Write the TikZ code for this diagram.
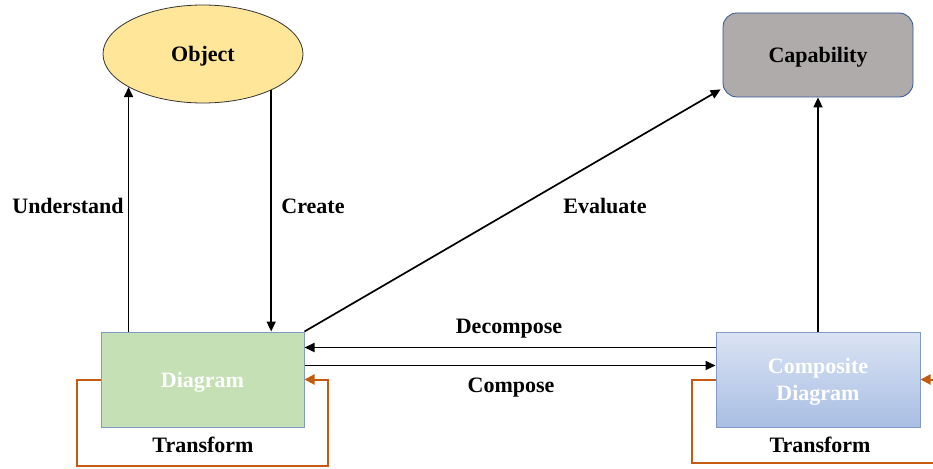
\documentclass[tikz,border=0pt]{standalone}
\usepackage{fontspec}
\setmainfont{Liberation Serif}
\usetikzlibrary{arrows.meta,shapes.geometric,calc}

\definecolor{objfill}{HTML}{FFE699}
\definecolor{capfill}{HTML}{AFABAB}
\definecolor{capedge}{HTML}{2F5597}
\definecolor{diafill}{HTML}{C5E0B4}
\definecolor{boxedge}{HTML}{7F9BC4}
\definecolor{comptop}{HTML}{DAE3F3}
\definecolor{compbot}{HTML}{A9BEE4}
\definecolor{loopcol}{HTML}{C55A11}

\tikzset{
  txt/.style={font=\fontsize{22}{27}\selectfont\bfseries,text depth=0pt},
  arr/.style={line width=1.7pt,-{Triangle[length=10pt,width=9pt]}},
  loop/.style={line width=2pt,draw=loopcol},
  looparr/.style={loop,-{Triangle[length=10pt,width=10pt]},loopcol}
}

\begin{document}
\begin{tikzpicture}[x=1pt,y=-1pt]
\useasboundingbox (0,0) rectangle (933,468);
\clip (0,0) rectangle (933,468);

% main shapes
\node[ellipse,draw=black!80,line width=0.8pt,fill=objfill,inner sep=0pt,
      minimum width=200pt,minimum height=98pt,txt] (obj) at (203,54) {Object};
\node[rectangle,rounded corners=14pt,draw=capedge,line width=0.8pt,fill=capfill,
      minimum width=190pt,minimum height=84pt,txt] (cap) at (818,55) {Capability};
\node[rectangle,draw=boxedge,line width=1pt,fill=diafill,
      minimum width=203pt,minimum height=95pt,txt,text=white] (dia) at (202.5,379.5) {Diagram};
\node[rectangle,draw=boxedge,line width=1pt,top color=comptop,bottom color=compbot,
      minimum width=204pt,minimum height=95pt,txt,text=white,align=center]
      (comp) at (818,379.5) {Composite\\Diagram};

% connectors between the shapes
\draw[arr] (obj.204 |- dia.north) -- (obj.204);
\draw[arr] (obj.332) -- (obj.332 |- dia.north);
\draw[arr] (dia.north east) -- ($(cap.south west)+(-2,-8)$);
\draw[arr] (comp.north) -- (cap.south);
\draw[arr] ($(comp.north west)+(0,16)$) -- ($(dia.north east)+(0,16)$);
\draw[arr] ($(dia.north east)+(0,34)$) -- ($(comp.north west)+(0,34)$);

% transform loops
\draw[looparr] (dia.west) -- ++(-24,0) |- ($(dia.east)+(23,86.5)$)
   -- ($(dia.east)+(23,0)$) -- (dia.east);
\coordinate (compout) at (945,463);
\coordinate (compin) at (945,379.5);
\draw[loop] (comp.west) -- ++(-24,0) |- (compout);
\draw[looparr] (compin) -- (comp.east);

% labels
\node[txt] (lund) at (68,206) {Understand};
\node[txt] (lcre) at (313,206) {Create};
\node[txt] (leva) at (605,206) {Evaluate};
\node[txt] (ldec) at (509,326) {Decompose};
\node[txt] (lcom) at (511,385) {Compose};
\node[txt] (ltr1) at (203,445) {Transform};
\node[txt] (ltr2) at (820,445) {Transform};
\end{tikzpicture}
\end{document}
